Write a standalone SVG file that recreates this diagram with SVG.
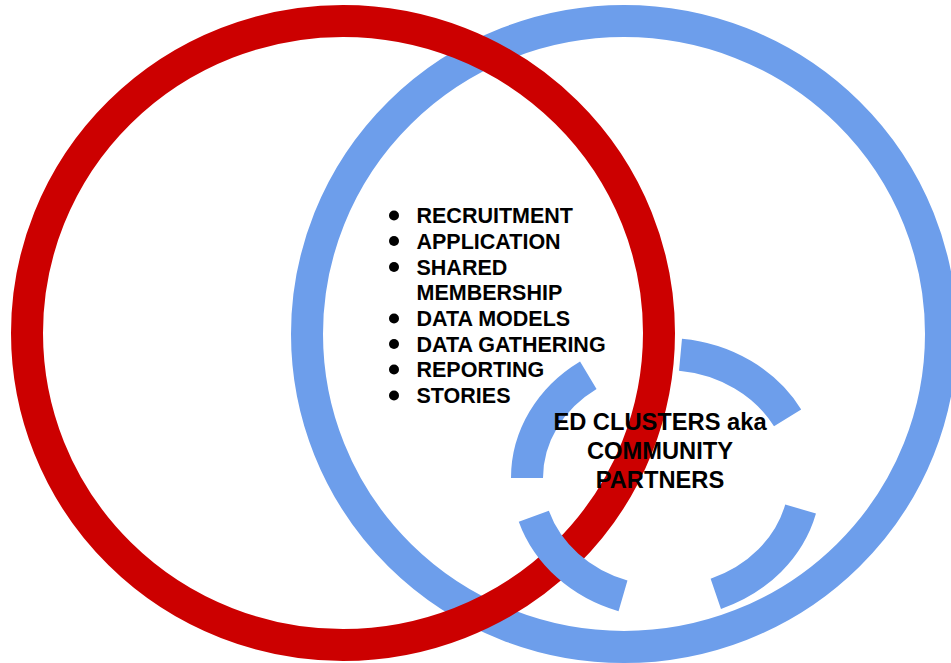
<svg xmlns="http://www.w3.org/2000/svg" width="951" height="663" viewBox="0 0 951 663">
<style>
.ring{fill:none;stroke-width:32}
.blue{stroke:#6d9eeb}
.red{stroke:#cc0000}
.dash{fill:none;stroke:#6d9eeb;stroke-width:32;stroke-linecap:butt}
.t{font-family:"Liberation Sans",Arial,sans-serif;font-weight:bold;fill:#000}
.list{font-size:21.5px}
.lbl{font-size:23.7px;text-anchor:middle}
</style>
<rect width="951" height="663" fill="#fff"/>
<g id="blue-circle">
<ellipse class="ring blue" cx="624" cy="334" rx="317" ry="313"/>
</g>
<g id="red-circle">
<ellipse class="ring red" cx="343" cy="333" rx="316" ry="312"/>
</g>
<g id="ed-clusters">
<path class="dash" d="M680.5,354.7 A139,124 0 0 1 787.6,417.9"/>
<path class="dash" d="M800.6,509 A139,124 0 0 1 715.8,593.8"/>
<path class="dash" d="M623,595.9 A139,124 0 0 1 533.8,516.3"/>
<path class="dash" d="M527,478 A139,124 0 0 1 588.3,375.2"/>
<text class="t lbl" x="660" y="430">ED CLUSTERS aka</text>
<text class="t lbl" x="660" y="459">COMMUNITY</text>
<text class="t lbl" x="660" y="488">PARTNERS</text>
</g>
<g id="shared-list">
<g fill="#000">
<circle cx="394" cy="215.5" r="5"/>
<circle cx="394" cy="241" r="5"/>
<circle cx="394" cy="267" r="5"/>
<circle cx="394" cy="318.5" r="5"/>
<circle cx="394" cy="344" r="5"/>
<circle cx="394" cy="369.5" r="5"/>
<circle cx="394" cy="395.5" r="5"/>
</g>
<text class="t list" x="416.5" y="223">RECRUITMENT</text>
<text class="t list" x="416.5" y="248.5">APPLICATION</text>
<text class="t list" x="416.5" y="274.5">SHARED</text>
<text class="t list" x="416.5" y="300">MEMBERSHIP</text>
<text class="t list" x="416.5" y="326">DATA MODELS</text>
<text class="t list" x="416.5" y="351.5">DATA GATHERING</text>
<text class="t list" x="416.5" y="377">REPORTING</text>
<text class="t list" x="416.5" y="403">STORIES</text>
</g>
<g id="connectors"></g>
</svg>
